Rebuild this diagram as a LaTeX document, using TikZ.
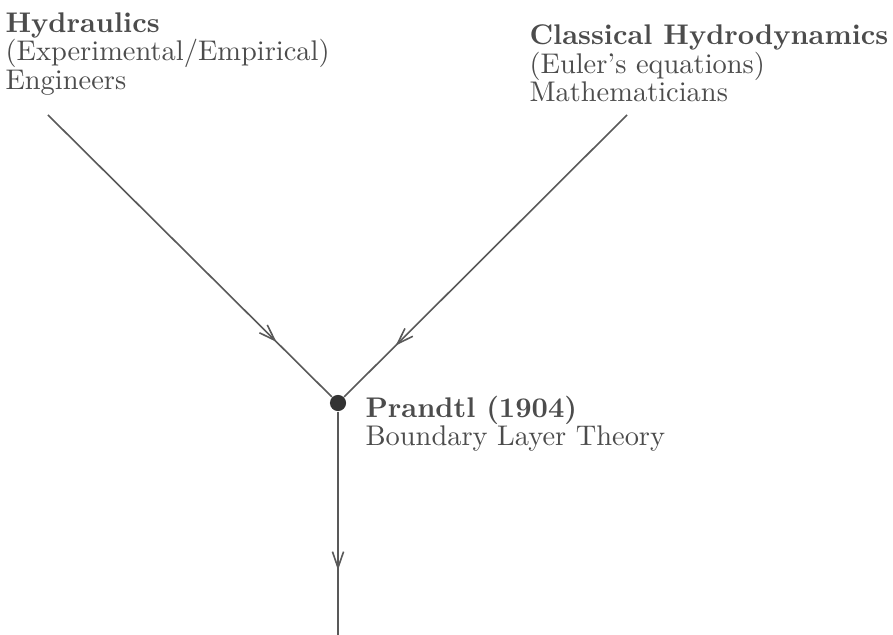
\documentclass[tikz,border=0pt]{standalone}
\usetikzlibrary{arrows.meta,decorations.markings}
\definecolor{inkgray}{gray}{0.30}
\definecolor{linegray}{gray}{0.35}
\tikzset{
  textblock/.style={anchor=north west, inner sep=0pt, align=left, text=inkgray,
    font=\fontsize{9.7}{9.6}\selectfont,
    execute at begin node={\lineskiplimit=-20pt\relax}},
  dot/.style={circle, fill=black!80, inner sep=0pt, minimum size=5.5pt},
  flow/.style={draw=linegray, line width=0.55pt, postaction={decorate},
    decoration={markings, mark=at position #1 with {\arrow{Straight Barb[length=5.5pt,width=3.8pt]}}}}
}
\begin{document}
\begin{tikzpicture}[x=0.012cm, y=-0.012cm]
  \useasboundingbox (0,0) rectangle (893,635);

  % Zdroje
  \node[textblock] (hydraulics) at (5,12.5) {\textbf{Hydraulics}\\(Experimental/Empirical)\\Engineers};
  \node[textblock] (classical) at (529,24.5) {\textbf{Classical Hydrodynamics}\\(Euler's equations)\\Mathematicians};

  % Spojeni
  \node[dot] (prandtl) at (338,403) {};
  \node[textblock] (theory) at (365,395.5) {\textbf{Prandtl (1904)}\\Boundary Layer Theory};

  % Sipky
  \coordinate (hydro in) at (48,115);
  \coordinate (euler in) at (627,115);
  \coordinate (outflow) at (338,635);
  \draw[flow=0.806] (hydro in) -- (prandtl);
  \draw[flow=0.82] (euler in) -- (prandtl);
  \draw[flow=0.71] (prandtl) -- (outflow);
\end{tikzpicture}
\end{document}
